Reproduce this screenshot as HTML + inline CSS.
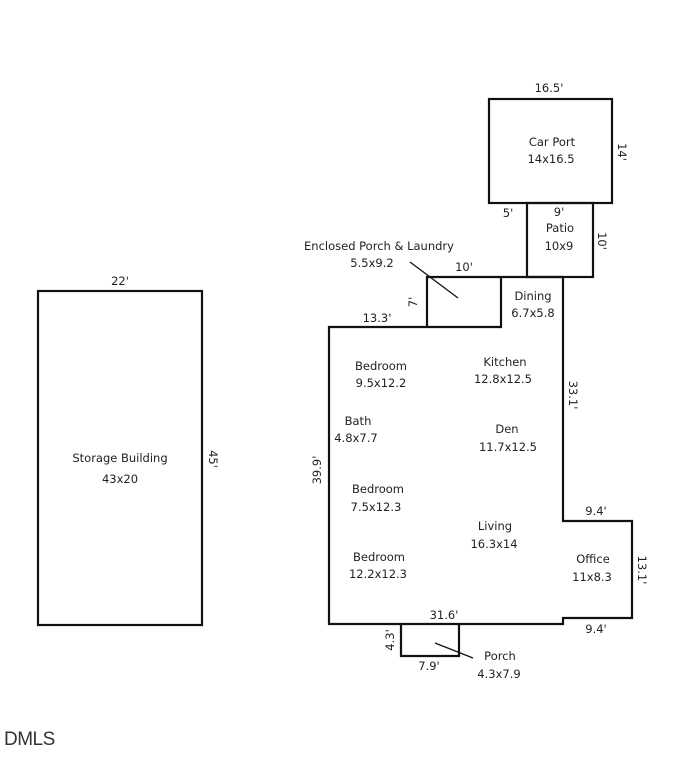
<!DOCTYPE html>
<html><head><style>
html,body{margin:0;padding:0;background:#fff;}
svg text{font-family:"DejaVu Sans","Liberation Sans",sans-serif;font-size:11.5px;fill:#222;}
</style></head><body>
<svg width="692" height="771" viewBox="0 0 692 771" xmlns="http://www.w3.org/2000/svg">
<g fill="none" stroke="#111" stroke-width="2.2">
<rect x="489" y="99" width="123" height="104"/>
<rect x="527" y="203" width="66" height="74"/>
<rect x="38" y="291" width="164" height="334"/>
<polyline points="427,327 427,277 563,277 563,521 632,521 632,618 563,618 563,624 329,624 329,327 501,327 501,277"/>
<polyline points="401,624 401,656 459,656 459,624"/>
</g>
<g stroke="#111" stroke-width="1.3">
<line x1="410" y1="262" x2="458" y2="298"/>
<line x1="435" y1="643" x2="473" y2="658"/>
</g>
<g text-anchor="middle">
<text x="549" y="92">16.5'</text>
<text x="552" y="146">Car Port</text>
<text x="551" y="163">14x16.5</text>
<text x="508" y="217">5'</text>
<text x="559" y="216">9'</text>
<text x="560" y="232">Patio</text>
<text x="559" y="250">10x9</text>
<text x="379" y="250">Enclosed Porch &amp; Laundry</text>
<text x="372" y="267">5.5x9.2</text>
<text x="464" y="271">10'</text>
<text x="533" y="300">Dining</text>
<text x="533" y="317">6.7x5.8</text>
<text x="377" y="322">13.3'</text>
<text x="120" y="285">22'</text>
<text x="381" y="370">Bedroom</text>
<text x="381" y="387">9.5x12.2</text>
<text x="505" y="366">Kitchen</text>
<text x="503" y="383">12.8x12.5</text>
<text x="358" y="425">Bath</text>
<text x="356" y="442">4.8x7.7</text>
<text x="507" y="433">Den</text>
<text x="508" y="451">11.7x12.5</text>
<text x="120" y="462">Storage Building</text>
<text x="120" y="483">43x20</text>
<text x="378" y="493">Bedroom</text>
<text x="376" y="511">7.5x12.3</text>
<text x="596" y="515">9.4'</text>
<text x="495" y="530">Living</text>
<text x="494" y="548">16.3x14</text>
<text x="379" y="561">Bedroom</text>
<text x="378" y="578">12.2x12.3</text>
<text x="593" y="563">Office</text>
<text x="592" y="581">11x8.3</text>
<text x="444" y="619">31.6'</text>
<text x="596" y="633">9.4'</text>
<text x="429" y="670">7.9'</text>
<text x="500" y="660">Porch</text>
<text x="499" y="678">4.3x7.9</text>
<text transform="translate(618,152) rotate(90)">14'</text>
<text transform="translate(598,241) rotate(90)">10'</text>
<text transform="translate(569,395) rotate(90)">33.1'</text>
<text transform="translate(638,570) rotate(90)">13.1'</text>
<text transform="translate(209,459) rotate(90)">45'</text>
<text transform="translate(321,470) rotate(-90)">39.9'</text>
<text transform="translate(417,302) rotate(-90)">7'</text>
<text transform="translate(394,640) rotate(-90)">4.3'</text>
</g>
<text x="4" y="745" style="font-family:'Liberation Sans',sans-serif;font-size:19px;fill:#333;letter-spacing:-0.5px">DMLS</text>
</svg>
</body></html>
